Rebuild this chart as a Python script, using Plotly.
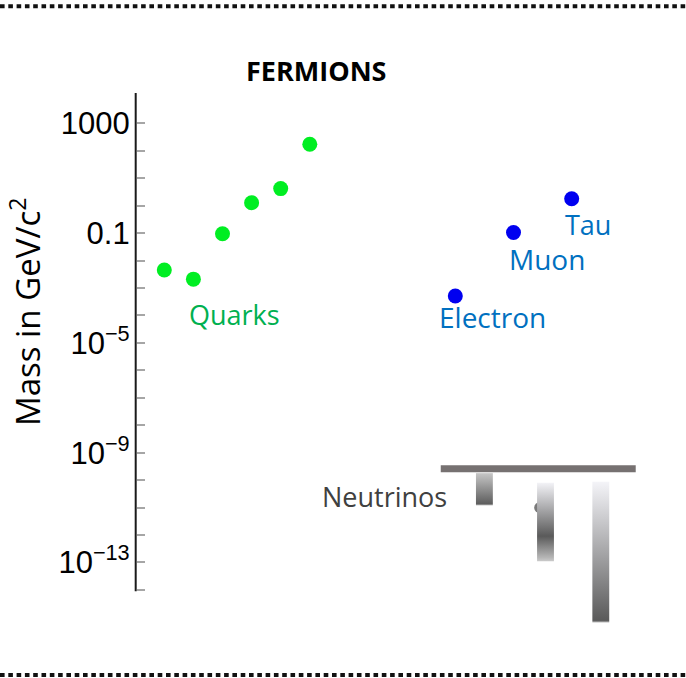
import plotly.graph_objects as go

# ---------------- data ----------------
quark_names = ["d", "u", "s", "c", "b", "t"]
quark_x = [1, 2, 3, 4, 5, 6]
quark_mass = [0.0045, 0.0021, 0.095, 1.28, 4.18, 173.0]

lepton_names = ["Electron", "Muon", "Tau"]
lepton_x = [11, 13, 15]
lepton_mass = [0.000511, 0.1057, 1.777]

neutrino_x = [12, 14.1, 16]
neutrino_upper = [1.8e-10, 8.1e-11, 8.7e-11]
neutrino_lower = [1.2e-11, 1.1e-13, 6.5e-16]
neutrino_limit = 2.6e-10
neutrino_limit_x = [10.5, 17.2]
neutrino_point_x = [13.9]
neutrino_point_mass = [1.0e-11]

tick_exp = list(range(-14, 4))
tick_labels = {3: "1000", -1: "0.1", -5: "10<sup>−5</sup>", -9: "10<sup>−9</sup>", -13: "10<sup>−13</sup>"}
axis_extent = [10 ** -14.05, 10 ** 4.1]

# ---------------- layout constants ----------------
W, H = 686, 678
x_range = [-4.646, 18.928]
y_range = [-17.208, 7.492]
axis_px = 135.7
axis_pos = axis_px / W
axis_x_data = x_range[0] + axis_pos * (x_range[1] - x_range[0])
bar_half = 0.29

def px(x):
    return x / W

def py(y):
    return 1 - y / H

fig = go.Figure()

grad = [
    [[0, "#bdbdbd"], [0.05, "#5e5e5e"], [1, "#c6c6c6"]],
    [[0, "#cbcbcb"], [0.05, "#b5b5b5"], [0.32, "#5a5a5a"], [1, "#f3f3f7"]],
    [[0, "#bdbdbd"], [0.015, "#5a5a5a"], [1, "#f4f4f8"]],
]

# hidden neutrino point (behind bar)
fig.add_trace(go.Scatter(x=neutrino_point_x, y=neutrino_point_mass, mode="markers",
                         marker=dict(size=11, color="#7a7a7a"), hoverinfo="skip"))

for i, (xc, lo, hi) in enumerate(zip(neutrino_x, neutrino_lower, neutrino_upper)):
    fig.add_trace(go.Scatter(
        x=[xc - bar_half, xc + bar_half, xc + bar_half, xc - bar_half, xc - bar_half],
        y=[lo, lo, hi, hi, lo],
        mode="lines", line=dict(width=0, color="rgba(0,0,0,0)"),
        fill="toself",
        fillgradient=dict(type="vertical", colorscale=grad[i]),
        hoverinfo="skip"))

fig.add_trace(go.Scatter(x=neutrino_limit_x, y=[neutrino_limit, neutrino_limit], mode="lines",
                         line=dict(color="#767171", width=7), hoverinfo="skip"))

fig.add_trace(go.Scatter(x=quark_x, y=quark_mass, mode="markers", text=quark_names,
                         marker=dict(size=15, color="#00EE22")))
fig.add_trace(go.Scatter(x=lepton_x, y=lepton_mass, mode="markers", text=lepton_names,
                         marker=dict(size=15, color="#0000F0")))

# axis line
fig.add_trace(go.Scatter(x=[axis_x_data, axis_x_data], y=axis_extent, mode="lines",
                         line=dict(color="#1a1a1a", width=2), hoverinfo="skip"))

ann_font = "Open Sans, Noto Sans, sans-serif"
annotations = [
    dict(text="<b>FERMIONS</b>", x=px(316), y=py(71), font=dict(family=ann_font, size=27, color="#000000")),
    dict(text="Mass in GeV/c<sup>2</sup>", x=px(25), y=py(312), textangle=-90,
         font=dict(family=ann_font, size=33, color="#000000")),
    dict(text="Quarks", x=px(234), y=py(315), font=dict(family=ann_font, size=27, color="#00B050")),
    dict(text="Electron", x=px(492), y=py(317), font=dict(family=ann_font, size=28, color="#0070C0")),
    dict(text="Muon", x=px(547), y=py(259), font=dict(family=ann_font, size=28, color="#0070C0")),
    dict(text="Tau", x=px(588), y=py(224), font=dict(family=ann_font, size=27, color="#0070C0")),
    dict(text="Neutrinos", x=px(385), y=py(497), font=dict(family=ann_font, size=27, color="#404040")),
]
for a in annotations:
    a.update(xref="paper", yref="paper", showarrow=False, xanchor="center", yanchor="middle")

border = dict(color="#111111", width=4, dash="4.6px,3.7px")
shapes = [
    dict(type="line", xref="paper", yref="paper", x0=0, x1=1, y0=py(6.3), y1=py(6.3), line=border),
    dict(type="line", xref="paper", yref="paper", x0=0, x1=1, y0=py(675), y1=py(675), line=border),
]

fig.update_layout(
    template="none",
    width=W, height=H,
    margin=dict(l=0, r=0, t=0, b=0),
    paper_bgcolor="white", plot_bgcolor="white",
    showlegend=False,
    annotations=annotations,
    shapes=shapes,
    xaxis=dict(range=x_range, visible=False, fixedrange=True),
    yaxis=dict(
        type="log", range=y_range, anchor="free", position=axis_pos,
        showline=False, showgrid=False, zeroline=False,
        ticks="inside", ticklen=8, tickwidth=1.5, tickcolor="#a6a6a6",
        tickvals=[10 ** e for e in tick_exp],
        ticktext=[tick_labels.get(e, "") for e in tick_exp],
        tickfont=dict(family="Liberation Sans, Arial, sans-serif", size=31, color="#000000"),
        ticklabelstandoff=6,
        automargin=False, fixedrange=True,
    ),
)

fig.write_html("out.html")
